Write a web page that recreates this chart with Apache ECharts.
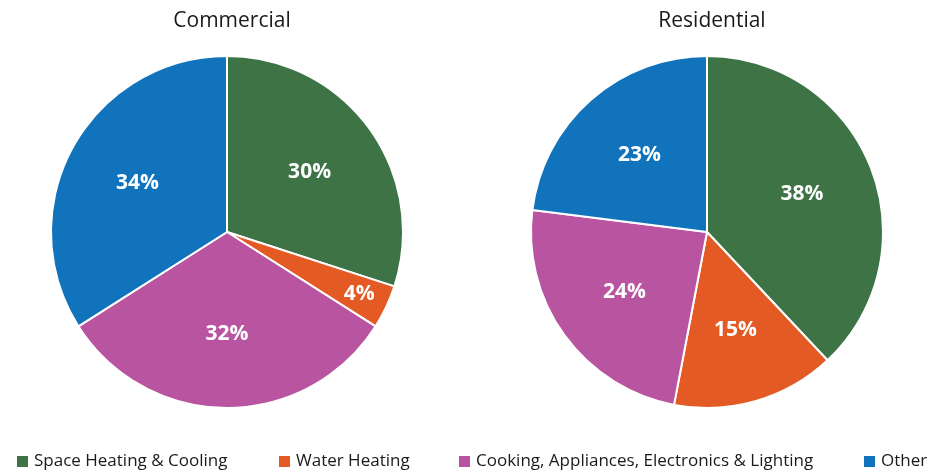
<!DOCTYPE html>
<html>
<head>
<meta charset="utf-8">
<script src="https://cdn.jsdelivr.net/npm/echarts@6/dist/echarts.min.js"></script>
<style>
  html, body { margin: 0; padding: 0; background: #fff; }
  #chart { width: 937px; height: 471px; }
</style>
</head>
<body>
<div id="chart"></div>
<script>
const categories = ['Space Heating & Cooling', 'Water Heating', 'Cooking, Appliances, Electronics & Lighting', 'Other'];
const commercial = [30, 4, 32, 34];
const residential = [38, 15, 24, 23];
const colors = ['#3d7345', '#e35a24', '#b955a0', '#1273bd'];

const font = '"Open Sans", "Noto Sans", sans-serif';
const R = 176;
const centers = [[227, 232], [707, 232]];
const allValues = [commercial, residential];

// place labels a bit further out than the ECharts mid-radius default;
// thin slices get pushed toward the rim like the original
function placeLabel(params) {
  const vals = allValues[params.seriesIndex];
  const total = vals.reduce((a, b) => a + b, 0);
  let before = 0;
  for (let i = 0; i < params.dataIndex; i++) before += vals[i];
  const v = vals[params.dataIndex];
  const mid = (before + v / 2) / total * Math.PI * 2;
  const k = v / total < 0.1 ? 0.83 : 0.58;
  const c = centers[params.seriesIndex];
  return {
    x: c[0] + Math.sin(mid) * R * k,
    y: c[1] - Math.cos(mid) * R * k,
    align: 'center',
    verticalAlign: 'middle'
  };
}

function pieSeries(name, values, idx) {
  return {
    name: name,
    type: 'pie',
    center: centers[idx],
    radius: R,
    startAngle: 90,
    clockwise: true,
    animation: false,
    itemStyle: { borderColor: '#fff', borderWidth: 2 },
    label: {
      show: true,
      position: 'inside',
      formatter: '{c}%',
      color: '#fff',
      fontFamily: font,
      fontWeight: 'bold',
      fontSize: 21
    },
    labelLayout: placeLabel,
    labelLine: { show: false },
    emphasis: { disabled: true },
    data: categories.map((c, i) => ({ name: c, value: values[i] }))
  };
}

const legendLefts = [10, 272, 452, 857];

const option = {
  color: colors,
  title: [
    { text: 'Commercial', left: 227, top: 6, textAlign: 'center',
      textStyle: { fontFamily: font, fontWeight: 'normal', fontSize: 21, color: '#1a1a1a' } },
    { text: 'Residential', left: 707, top: 6, textAlign: 'center',
      textStyle: { fontFamily: font, fontWeight: 'normal', fontSize: 21, color: '#1a1a1a' } }
  ],
  legend: categories.map((c, i) => ({
    data: [c],
    left: legendLefts[i],
    top: 448,
    icon: 'rect',
    itemWidth: 13,
    itemHeight: 13,
    itemGap: 8,
    selectedMode: false,
    textStyle: { fontFamily: font, fontSize: 17, color: '#1a1a1a' }
  })),
  series: [
    pieSeries('Commercial', commercial, 0),
    pieSeries('Residential', residential, 1)
  ]
};

const myChart = echarts.init(document.getElementById('chart'));
myChart.setOption(option);
</script>
</body>
</html>
